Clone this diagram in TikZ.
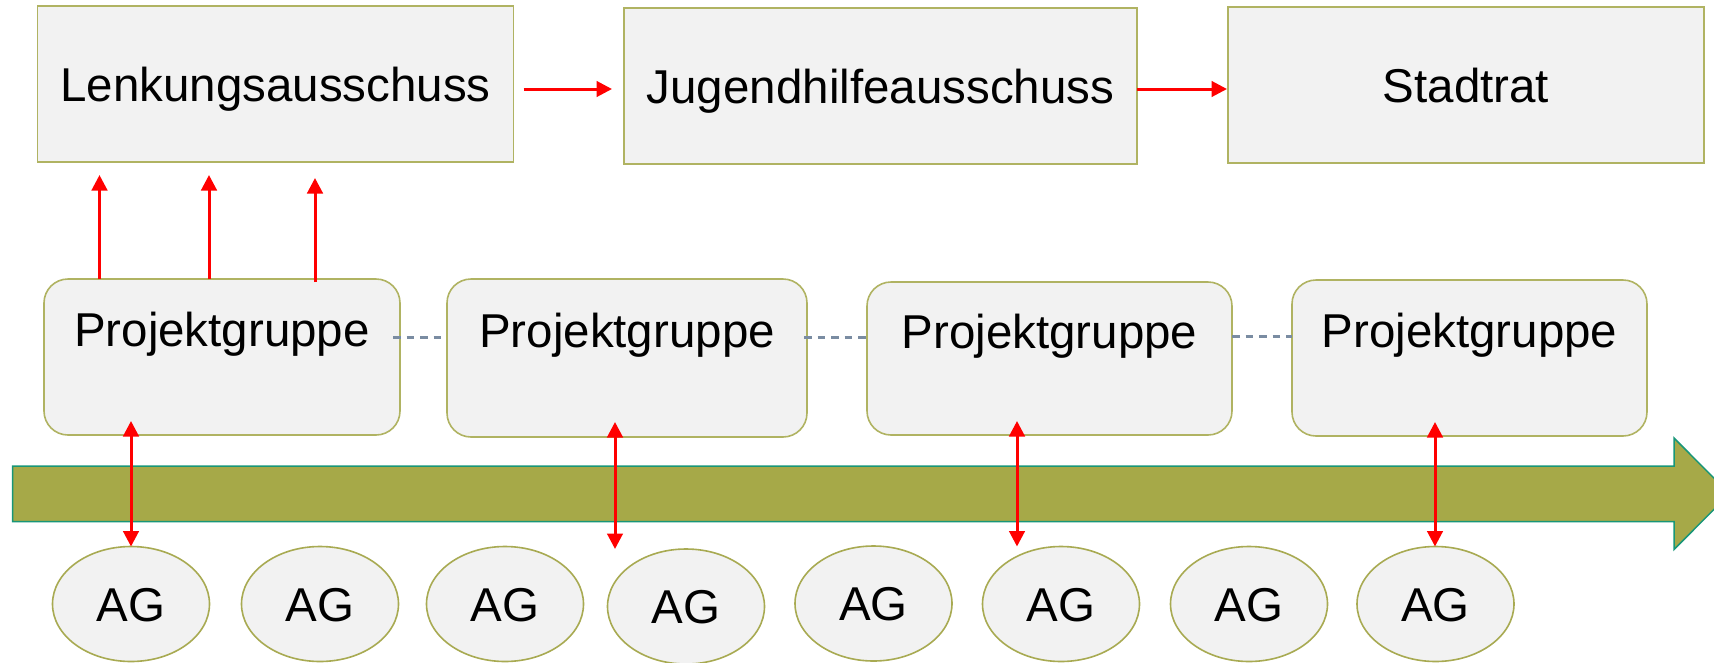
\documentclass[tikz,border=0pt]{standalone}
\usepackage{fontspec}
\setmainfont{Liberation Sans}
\usetikzlibrary{arrows.meta,shapes.geometric}

\definecolor{boxfill}{HTML}{F2F2F2}
\definecolor{boxline}{RGB}{176,179,98}
\definecolor{agline}{RGB}{168,170,82}
\definecolor{barfill}{RGB}{166,169,72}
\definecolor{barline}{RGB}{24,150,120}
\definecolor{linkgray}{RGB}{122,140,162}
\definecolor{flowred}{RGB}{255,0,0}

\begin{document}
\begin{tikzpicture}[x=1pt,y=-1pt,
  every node/.style={font=\fontsize{47.5pt}{57pt}\selectfont, inner sep=0pt, outer sep=0pt},
  topbox/.style={draw=boxline, line width=1.6pt, fill=boxfill, minimum height=156pt,
                 text height=34pt, text depth=0pt},
  pgbox/.style={draw=boxline, line width=1.6pt, fill=boxfill, rounded corners=24pt,
                minimum height=156pt, text height=34pt, text depth=55pt},
  agnode/.style={ellipse, draw=agline, line width=1.6pt, fill=boxfill,
                 minimum width=157pt, minimum height=115pt, text height=34pt, text depth=0pt},
  flow/.style={draw=flowred, line width=3pt, -{Triangle[length=15.5pt,width=15.5pt]}},
  both/.style={draw=flowred, line width=3pt,
               {Triangle[length=15.5pt,width=15.5pt]}-{Triangle[length=15.5pt,width=15.5pt]}},
  link/.style={draw=linkgray, line width=2.3pt, dash pattern=on 7.5pt off 6pt},
  timeline/.style={fill=barfill, draw=barline, line width=1.5pt},
]
\useasboundingbox (0,0) rectangle (1714,662);
\clip (0,0) rectangle (1714,662);

% time axis
\path[timeline] (12.7,466) -- (1674,466) -- (1674,438) -- (1729.5,493.75)
  -- (1674,549.5) -- (1674,521.5) -- (12.7,521.5) -- cycle;

% committees
\node[topbox, minimum width=476pt] (lenk)  at (275.5,84) {Lenkungsausschuss};
\node[topbox, minimum width=513pt] (jugend) at (880.5,86) {Jugendhilfeausschuss};
\node[topbox, minimum width=476pt] (stadt) at (1466,85) {Stadtrat};

% project groups
\node[pgbox, minimum width=356pt] (pg1) at (222,357) {Projektgruppe};
\node[pgbox, minimum width=360pt, minimum height=158pt] (pg2) at (627,358) {Projektgruppe};
\node[pgbox, minimum width=365pt, minimum height=153pt] (pg3) at (1049.5,358.5) {Projektgruppe};
\node[pgbox, minimum width=355pt] (pg4) at (1469.5,358) {Projektgruppe};

% working groups
\node[agnode] (ag1) at (131,604) {AG};
\node[agnode] (ag2) at (320,604) {AG};
\node[agnode] (ag3) at (505,604) {AG};
\node[agnode] (ag4) at (686,606.5) {AG};
\node[agnode] (ag5) at (873.5,603.5) {AG};
\node[agnode] (ag6) at (1061,604) {AG};
\node[agnode] (ag7) at (1249,604) {AG};
\node[agnode] (ag8) at (1435.5,604) {AG};

% links between the project groups
\draw[link, shorten <=-7pt] (pg1.east |- 0,337.5) -- (pg2.west |- 0,337.5);
\draw[link, shorten <=-3pt] (pg2.east |- 0,337.5) -- (pg3.west |- 0,337.5);
\draw[link] (pg3.east |- 0,336.5) -- (pg4.west |- 0,336.5);

% reporting chain
\draw[flow, shorten <=10pt, shorten >=12pt] (lenk.east |- 0,89) -- (jugend.west |- 0,89);
\draw[flow, shorten >=1pt] (jugend.east |- 0,89) -- (stadt.west |- 0,89);

% project group 1 reports upwards
\draw[flow, shorten >=13pt] (99.5,0 |- pg1.north) -- (99.5,0 |- lenk.south);
\draw[flow, shorten >=13pt] (209,0 |- pg1.north) -- (209,0 |- lenk.south);
\draw[flow, shorten <=-3pt, shorten >=16pt] (315,0 |- pg1.north) -- (315,0 |- lenk.south);

% exchange between project groups and working groups
\draw[both, shorten <=-14pt] (131,0 |- pg1.south) -- (131,0 |- ag1.north);
\draw[both, shorten <=-15pt] (615,0 |- pg2.south) -- (615,0 |- ag4.north);
\draw[both, shorten <=-14pt] (1017,0 |- pg3.south) -- (1017,0 |- ag6.north);
\draw[both, shorten <=-14pt] (1435,0 |- pg4.south) -- (1435,0 |- ag8.north);
\end{tikzpicture}
\end{document}
